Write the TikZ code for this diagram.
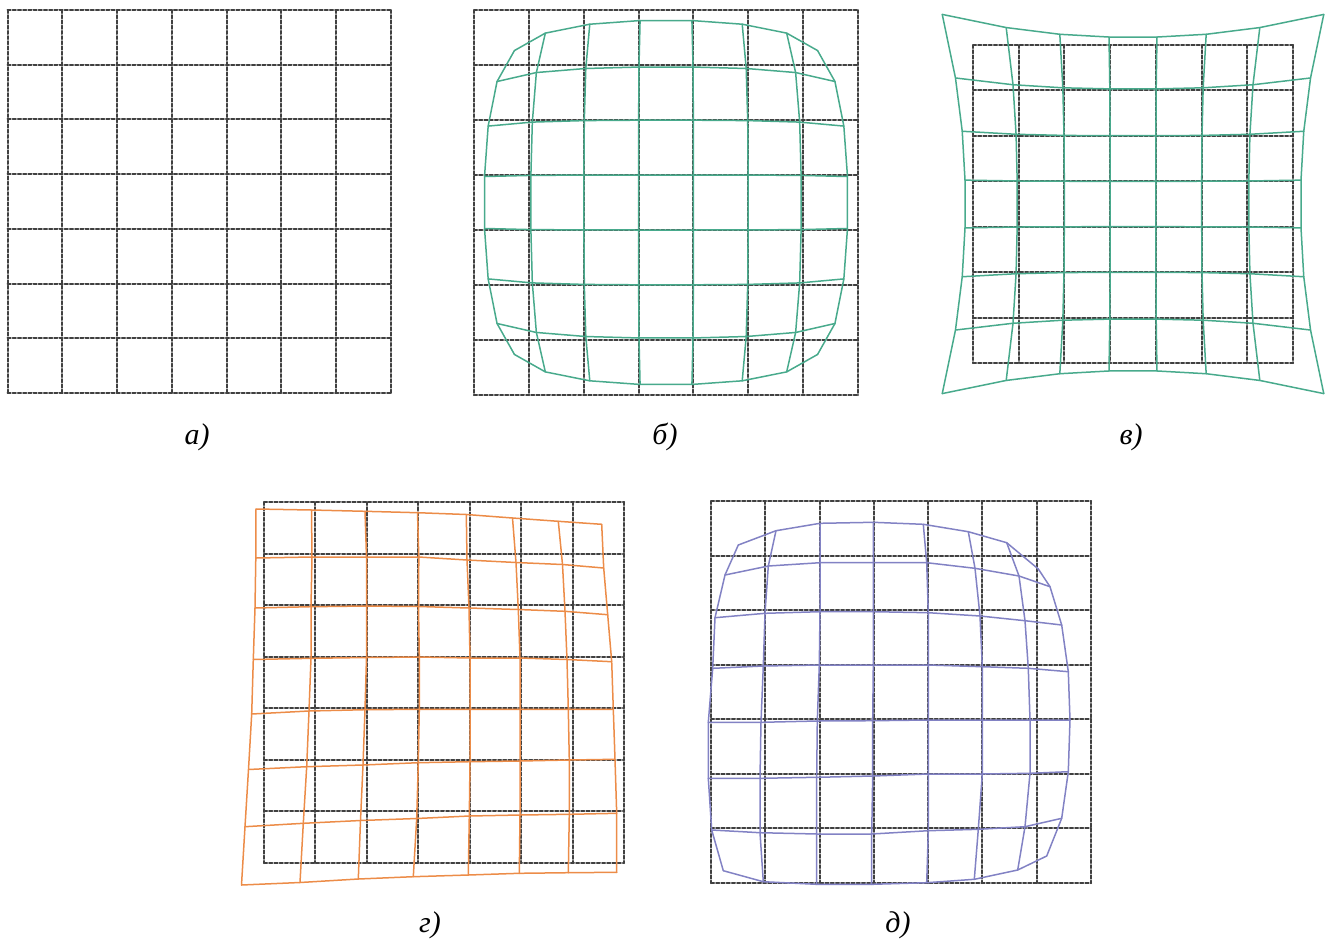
\documentclass[tikz,border=0pt]{standalone}
\usepackage{fontspec}
\setmainfont{Liberation Serif}
\definecolor{lensgreen}{RGB}{72,170,140}
\definecolor{tiltorange}{RGB}{236,140,72}
\definecolor{mixviolet}{RGB}{130,130,196}

\begin{document}
\begin{tikzpicture}[x=0.5pt,y=-0.5pt,line cap=round,
  gridline/.style={black!75,line width=1pt,dash pattern=on 1.6pt off 1pt},
  warp/.style={line width=0.75pt,line join=round},
  tag/.style={font=\fontsize{15}{18}\selectfont\itshape}]
  \useasboundingbox (0,0) rectangle (1334,943);

  % dashed reference grids, 7 x 7 cells each
  \foreach \gx/\gy/\gw/\gh in {7.5/10/383.5/383, 474/10/384/385, 973/45/320/318,
                               264/502/360/361, 711/501/380/382}
    \foreach \i in {0,...,7} {
      \draw[gridline] ({\gx+\i*\gw/7},\gy) -- ++(0,\gh);
      \draw[gridline] (\gx,{\gy+\i*\gh/7}) -- ++(\gw,0);
    }

  % radial distortion: barrel (b) and pincushion (v)
  \foreach \pn/\cx/\cy/\cwx/\cwy/\kk in {b/666/202.5/54.86/55/-0.00035,
                                         v/1133/204/45.71/45.43/0.00032}
    \foreach \i in {0,...,7}
      \foreach \j in {0,...,7} {
        \pgfmathsetmacro\du{\i-3.5}
        \pgfmathsetmacro\dv{\j-3.5}
        \pgfmathsetmacro\sc{1+(\kk)*(\du*\du+\dv*\dv)^2}
        \coordinate (\pn\j-\i) at ({\cx+\sc*\du*\cwx},{\cy+\sc*\dv*\cwy});
      }

  % tilted grid (g), rows top to bottom
  \foreach \x/\y [count=\n from 0] in {
      256/509, 311.5/510, 365/511.3, 417.5/512.7, 466.3/514.5, 512.5/518, 558.3/521.3, 601.7/524.3,
      255.8/558, 312/557, 366.5/557, 418.8/557, 467/560, 516/562.5, 562.5/564.5, 603.7/568,
      255/608, 311/606.7, 366.5/606, 418.5/606.5, 469/608, 518.3/609.5, 565/611.3, 607.7/614.7,
      253.3/659.5, 311/658.3, 366.5/657.5, 419.3/657, 470/658, 520/658, 567/659.5, 611.7/661.7,
      251.7/714, 309/711, 365/709.7, 419.3/709.3, 470/709.3, 520/709.3, 568.3/709.3, 613.3/709.3,
      248.5/769.5, 306.7/766.7, 363/765, 418.3/762.7, 470/761.7, 520/761, 569.3/760, 615/759.3,
      245/826.7, 303.3/823.3, 360.5/820.5, 416.7/818.5, 469.3/816, 520/815, 569.3/814.3, 616.7/813.3,
      241.5/885, 300/882.5, 358.3/879, 413.3/876.7, 468.3/875, 519.3/873.3, 568.3/872.7, 616.7/872.3} {
    \pgfmathtruncatemacro\rr{\n/8}
    \pgfmathtruncatemacro\cc{mod(\n,8)}
    \coordinate (g\rr-\cc) at (\x,\y);
  }

  % mixed distortion (d), rows top to bottom
  \foreach \x/\y [count=\n from 0] in {
      738.3/545, 776/530.7, 820/523.3, 873.3/522.3, 923.3/524.3, 968.3/531.7, 1006.7/542.7, 1038.3/569,
      725/575, 768.3/566, 820/562.7, 873.3/562.7, 926.7/562.7, 975/568.3, 1019/576, 1050/586.7,
      715/617.7, 765/613.3, 820/611.7, 873.3/611.7, 928.3/612.7, 980/616, 1025/620.7, 1061.7/625,
      712.7/668.3, 763.3/666, 819.3/665, 873.3/665, 928.3/665, 982.3/666.7, 1028.3/668.3, 1068.3/671.7,
      708.3/722.3, 761/722.3, 817.3/721, 872.7/720.7, 928.3/720, 982.3/720, 1030/720, 1070/720,
      708.3/778.3, 760/778.3, 816.7/777.3, 872.7/776, 928.3/774, 982.3/774, 1030/773.3, 1068.3/771.7,
      711.7/830, 760/832.7, 816.7/834, 871.7/834, 928.3/830.7, 978.3/829.3, 1025/826.7, 1061.7/818.3,
      723.3/870.7, 763.3/881.7, 816.7/884.3, 871.7/884.3, 926.7/882.7, 974.3/879.3, 1017.7/870, 1046.7/856} {
    \pgfmathtruncatemacro\rr{\n/8}
    \pgfmathtruncatemacro\cc{mod(\n,8)}
    \coordinate (d\rr-\cc) at (\x,\y);
  }

  % distorted lines
  \foreach \pn/\col in {b/lensgreen, v/lensgreen, g/tiltorange, d/mixviolet}
    \foreach \n in {0,...,7} {
      \draw[warp,\col] (\pn\n-0) \foreach \m in {1,...,7} {-- (\pn\n-\m)};
      \draw[warp,\col] (\pn0-\n) \foreach \m in {1,...,7} {-- (\pn\m-\n)};
    }

  \node[tag] (capA) at (197,437) {а)};
  \node[tag] (capB) at (665,437) {б)};
  \node[tag] (capV) at (1131,437) {в)};
  \node[tag] (capG) at (430,925) {г)};
  \node[tag] (capD) at (898,925) {д)};
\end{tikzpicture}
\end{document}
